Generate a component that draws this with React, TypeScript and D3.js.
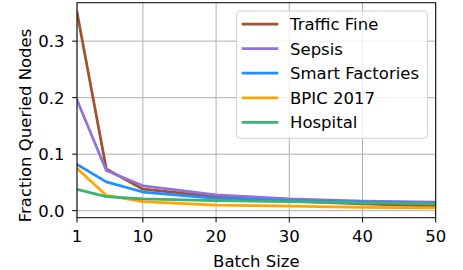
import React from "react";
import * as d3 from "d3";

const batchSizes = [1, 5, 10, 20, 30, 40, 50];
const seriesNames = ["Traffic Fine", "Sepsis", "Smart Factories", "BPIC 2017", "Hospital"];
const trafficFine = [0.351, 0.074, 0.038, 0.025, 0.017, 0.012, 0.008];
const sepsis = [0.196, 0.071, 0.044, 0.028, 0.021, 0.017, 0.015];
const smartFactories = [0.082, 0.051, 0.033, 0.022, 0.018, 0.015, 0.013];
const bpic2017 = [0.075, 0.027, 0.016, 0.010, 0.008, 0.006, 0.005];
const hospital = [0.038, 0.025, 0.021, 0.018, 0.016, 0.014, 0.012];
const colors = ["#a0522d", "#9370db", "#1e90ff", "#ffa500", "#3cb371"];
const xTicks = [1, 10, 20, 30, 40, 50];
const yTicks = [0, 0.1, 0.2, 0.3];

const allSeries = [trafficFine, sepsis, smartFactories, bpic2017, hospital];

export default function App() {
  const W = 463, H = 270;
  const L = 77, R = 435.7, T = 2.7, B = 217.7;
  const x = d3.scaleLinear().domain([1, 50]).range([L, R]);
  const y = d3.scaleLinear().domain([-0.0124, 0.368]).range([B, T]);
  const line = d3.line<number>().x((_, i) => x(batchSizes[i])).y((d) => y(d));
  const font = "DejaVu Sans, sans-serif";
  const legX = 236.7, legY = 11, legW = 190.6, legH = 127.3;
  const fs = 16.5;
  return (
    <svg width={W} height={H} style={{ position: "absolute", left: 0, top: 0 }} fontFamily={font}>
      <rect width={W} height={H} fill="#fff" />
      {xTicks.map((t) => (
        <line key={"gx" + t} x1={x(t)} x2={x(t)} y1={T} y2={B} stroke="#b0b0b0" strokeWidth={1} />
      ))}
      {yTicks.map((t) => (
        <line key={"gy" + t} x1={L} x2={R} y1={y(t)} y2={y(t)} stroke="#b0b0b0" strokeWidth={1} />
      ))}
      <defs>
        <clipPath id="clip">
          <rect x={L} y={T} width={R - L} height={B - T} />
        </clipPath>
      </defs>
      <g clipPath="url(#clip)">
        {allSeries.map((s, i) => (
          <path key={i} d={line(s) || ""} fill="none" stroke={colors[i]} strokeWidth={2.75} strokeLinejoin="round" strokeLinecap="square" />
        ))}
      </g>
      <rect x={L} y={T} width={R - L} height={B - T} fill="none" stroke="#000" strokeWidth={1} />
      {xTicks.map((t) => (
        <g key={"tx" + t}>
          <line x1={x(t)} x2={x(t)} y1={B} y2={B + 4.8} stroke="#000" />
          <text x={x(t)} y={B + 24.6} textAnchor="middle" fontSize={fs} fill="#000">{t}</text>
        </g>
      ))}
      {yTicks.map((t) => (
        <g key={"ty" + t}>
          <line x1={L - 4.8} x2={L} y1={y(t)} y2={y(t)} stroke="#000" />
          <text x={64.5} y={y(t) + 6} textAnchor="end" fontSize={fs} fill="#000">{t.toFixed(1)}</text>
        </g>
      ))}
      <text x={(L + R) / 2} y={267} textAnchor="middle" fontSize={fs} fill="#000">Batch Size</text>
      <text transform={`translate(30.5,125.5) rotate(-90)`} textAnchor="middle" fontSize={fs} fill="#000">Fraction Queried Nodes</text>
      <rect x={legX} y={legY} width={legW} height={legH} rx={3} fill="#fff" fillOpacity={0.8} stroke="#d0d0d0" strokeWidth={1} />
      {seriesNames.map((n, i) => {
        const yy = 24 + i * 24.6;
        return (
          <g key={n}>
            <line x1={241.7} x2={278.3} y1={yy} y2={yy} stroke={colors[i]} strokeWidth={2.75} />
            <text x={290} y={yy + 6} fontSize={fs} fill="#000">{n}</text>
          </g>
        );
      })}
    </svg>
  );
}
